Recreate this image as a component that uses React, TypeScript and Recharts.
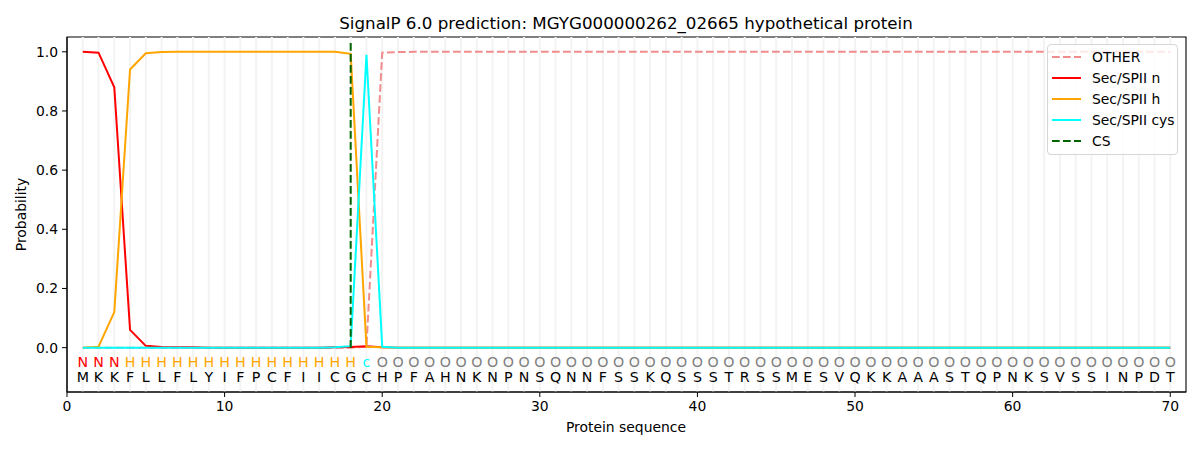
import {
  ComposedChart,
  Line,
  Scatter,
  XAxis,
  YAxis,
  ReferenceLine,
  ReferenceArea,
  Legend,
  Customized,
} from "recharts";

const FONT = "DejaVu Sans, sans-serif";
const TITLE = "SignalP 6.0 prediction: MGYG000000262_02665 hypothetical protein";

// protein sequence and predicted state per residue
const RESIDUES = "MKKFLLFLYIFPCFIICGCHPFAHNKNPNSQNNFSSKQSSSTRSSMESVQKKAAASTQPNKSVSSINPDT".split("");
const STATES = ("NNN" + "HHHHHHHHHHHHHHH" + "c" + "O".repeat(51)).split("");

// probabilities, positions 1..70
const OTHER = [
  0, 0, 0, 0, 0, 0, 0, 0, 0, 0,
  0, 0, 0, 0, 0, 0, 0, 0, 0.003, 0.997,
  0.999, 1, 1, 1, 1, 1, 1, 1, 1, 1,
  1, 1, 1, 1, 1, 1, 1, 1, 1, 1,
  1, 1, 1, 1, 1, 1, 1, 1, 1, 1,
  1, 1, 1, 1, 1, 1, 1, 1, 1, 1,
  1, 1, 1, 1, 1, 1, 1, 1, 1, 1,
];
const SEC_N = [
  1.0, 0.997, 0.88, 0.06, 0.006, 0.002, 0.001, 0.001, 0, 0,
  0, 0, 0, 0, 0, 0, 0.001, 0.002, 0.005, 0.001,
  0, 0, 0, 0, 0, 0, 0, 0, 0, 0,
  0, 0, 0, 0, 0, 0, 0, 0, 0, 0,
  0, 0, 0, 0, 0, 0, 0, 0, 0, 0,
  0, 0, 0, 0, 0, 0, 0, 0, 0, 0,
  0, 0, 0, 0, 0, 0, 0, 0, 0, 0,
];
const SEC_H = [
  0, 0.003, 0.12, 0.94, 0.995, 0.999, 1, 1, 1, 1,
  1, 1, 1, 1, 1, 1, 1, 0.993, 0.003, 0.001,
  0, 0, 0, 0, 0, 0, 0, 0, 0, 0,
  0, 0, 0, 0, 0, 0, 0, 0, 0, 0,
  0, 0, 0, 0, 0, 0, 0, 0, 0, 0,
  0, 0, 0, 0, 0, 0, 0, 0, 0, 0,
  0, 0, 0, 0, 0, 0, 0, 0, 0, 0,
];
const SEC_CYS = [
  0, 0, 0, 0, 0, 0, 0, 0, 0, 0,
  0, 0, 0, 0, 0, 0, 0.001, 0.005, 0.99, 0.003,
  0, 0, 0, 0, 0, 0, 0, 0, 0, 0,
  0, 0, 0, 0, 0, 0, 0, 0, 0, 0,
  0, 0, 0, 0, 0, 0, 0, 0, 0, 0,
  0, 0, 0, 0, 0, 0, 0, 0, 0, 0,
  0, 0, 0, 0, 0, 0, 0, 0, 0, 0,
];
const CS_POS = 18;

const X_TICKS = [0, 10, 20, 30, 40, 50, 60, 70];
const Y_TICKS = [0, 0.2, 0.4, 0.6, 0.8, 1.0];

const STATE_COLORS: Record<string, string> = { N: "red", H: "orange", c: "cyan", O: "gray" };

const LEGEND_ITEMS = [
  { name: "OTHER", color: "#f08080", dash: "7.7 3.3" },
  { name: "Sec/SPII n", color: "red", dash: "" },
  { name: "Sec/SPII h", color: "orange", dash: "" },
  { name: "Sec/SPII cys", color: "cyan", dash: "" },
  { name: "CS", color: "darkgreen", dash: "7.7 3.3" },
];

const POSITIONS = RESIDUES.map((_, i) => i + 1);

const rows = POSITIONS.map((pos, i) => ({
  pos,
  other: OTHER[i],
  secN: SEC_N[i],
  secH: SEC_H[i],
  secCys: SEC_CYS[i],
}));

const stateRow = POSITIONS.map((pos, i) => ({ pos, y: -0.05, ch: STATES[i] }));
const residueRow = POSITIONS.map((pos, i) => ({ pos, y: -0.1, ch: RESIDUES[i] }));

const tickStyle = { fill: "#000", fontSize: 13.9, fontFamily: FONT };

function renderLegend() {
  return (
    <div
      style={{
        border: "1px solid #d6d6d6",
        borderRadius: 4,
        background: "rgba(255,255,255,0.8)",
        padding: "1px 0 2px 4px",
        width: 131,
        boxSizing: "border-box",
        fontFamily: FONT,
        fontSize: 13.9,
        color: "#000",
      }}
    >
      {LEGEND_ITEMS.map((item) => (
        <div key={item.name} style={{ display: "flex", alignItems: "center", height: 21.2 }}>
          <svg width={29} height={10}>
            <line
              x1={0}
              y1={5}
              x2={29}
              y2={5}
              stroke={item.color}
              strokeWidth={2}
              strokeDasharray={item.dash || undefined}
              strokeOpacity={item.name === "OTHER" ? 0.9 : 1}
            />
          </svg>
          <span style={{ marginLeft: 11 }}>{item.name}</span>
        </div>
      ))}
    </div>
  );
}

function letterShape(dy: number, colored: boolean) {
  return (props: any) => {
    const { cx, cy, payload } = props;
    return (
      <text
        x={cx}
        y={cy + dy}
        textAnchor="middle"
        fontSize={14.2}
        fontFamily={FONT}
        fill={colored ? STATE_COLORS[payload.ch] : "#000"}
      >
        {payload.ch}
      </text>
    );
  };
}

export default function App() {
  return (
    <div style={{ position: "absolute", left: 0, top: 0, width: 1200, height: 450, background: "#fff" }}>
      <ComposedChart
        width={1200}
        height={450}
        data={rows}
        margin={{ top: 37, right: 14, bottom: 0, left: 0 }}
      >
        {POSITIONS.map((p) => (
          <ReferenceLine key={"g" + p} x={p} stroke="#f3f3f3" strokeWidth={2} />
        ))}
        <XAxis
          dataKey="pos"
          type="number"
          domain={[0, 71]}
          ticks={X_TICKS}
          allowDataOverflow
          height={58}
          tick={tickStyle}
          tickSize={5}
          tickMargin={4}
          tickLine={{ stroke: "#000" }}
          axisLine={{ stroke: "#000" }}
        />
        <YAxis
          type="number"
          domain={[-0.15, 1.05]}
          ticks={Y_TICKS}
          allowDataOverflow
          width={67}
          tick={tickStyle}
          tickSize={5}
          tickMargin={4}
          tickFormatter={(v: number) => v.toFixed(1)}
          tickLine={{ stroke: "#000" }}
          axisLine={{ stroke: "#000" }}
        />
        <Line
          dataKey="other"
          stroke="#f08080"
          strokeOpacity={0.9}
          strokeWidth={2}
          strokeDasharray="7.7 3.3"
          dot={false}
          type="linear"
          isAnimationActive={false}
        />
        <Line dataKey="secN" stroke="red" strokeWidth={2} dot={false} type="linear" isAnimationActive={false} />
        <Line dataKey="secH" stroke="orange" strokeWidth={2} dot={false} type="linear" isAnimationActive={false} />
        <Line dataKey="secCys" stroke="cyan" strokeWidth={2} dot={false} type="linear" isAnimationActive={false} />
        <ReferenceLine
          segment={[
            { x: CS_POS, y: 0 },
            { x: CS_POS, y: 1.035 },
          ]}
          stroke="darkgreen"
          strokeWidth={2}
          strokeDasharray="7.7 3.3"
        />
        <Scatter data={stateRow} dataKey="y" shape={letterShape(4.5, true)} isAnimationActive={false} />
        <Scatter data={residueRow} dataKey="y" shape={letterShape(4.5, false)} isAnimationActive={false} />
        <ReferenceArea x1={0} x2={71} y1={-0.15} y2={1.05} fill="none" stroke="#000" strokeWidth={1.1} />
        <Legend
          layout="vertical"
          align="center"
          verticalAlign="middle"
          wrapperStyle={{ left: 1047, top: 44, width: 131 }}
          content={renderLegend}
        />
        <Customized
          component={() => (
            <g fontFamily={FONT} fill="#000">
              <text x={626} y={28.5} textAnchor="middle" fontSize={16.7}>
                {TITLE}
              </text>
              <text x={626} y={432} textAnchor="middle" fontSize={13.9}>
                Protein sequence
              </text>
              <text
                x={26}
                y={214.5}
                textAnchor="middle"
                fontSize={13.9}
                transform="rotate(-90 26 214.5)"
              >
                Probability
              </text>
            </g>
          )}
        />
      </ComposedChart>
    </div>
  );
}
